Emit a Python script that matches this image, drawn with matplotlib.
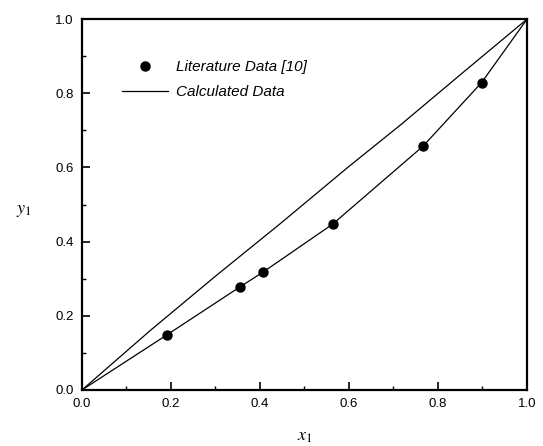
import matplotlib
matplotlib.use("Agg")
import matplotlib.pyplot as plt
from matplotlib.ticker import MultipleLocator

# Literature data points
lit_x = [0.190, 0.355, 0.407, 0.563, 0.766, 0.898]
lit_y = [0.148, 0.278, 0.318, 0.447, 0.657, 0.829]

# Calculated curve (lower)
calc_x = [0.0, 0.19, 0.355, 0.407, 0.563, 0.766, 0.898, 1.0]
calc_y = [0.0, 0.148, 0.278, 0.318, 0.447, 0.657, 0.829, 1.0]

# Upper curve
upper_x = [0.0, 0.153, 0.3, 0.445, 0.6, 0.715, 0.85, 1.0]
upper_y = [0.0, 0.160, 0.307, 0.448, 0.603, 0.714, 0.85, 1.0]

tick_vals = [0.0, 0.2, 0.4, 0.6, 0.8, 1.0]
tick_labels = ["0.0", "0.2", "0.4", "0.6", "0.8", "1.0"]

plt.rcParams['font.family'] = ['Liberation Sans', 'DejaVu Sans']
plt.rcParams['mathtext.fontset'] = 'stix'

fig = plt.figure(figsize=(5.43, 4.46), dpi=100)
ax = fig.add_axes([0.151, 0.1256, 0.8195, 0.8314])

ax.plot(upper_x, upper_y, color='black', lw=0.9)
ax.plot(calc_x, calc_y, color='black', lw=0.9, label='Calculated Data')
ax.plot(lit_x, lit_y, 'o', color='black', ms=6.5, label='Literature Data [10]')

ax.set_xlim(0, 1)
ax.set_ylim(0, 1)
ax.set_xticks(tick_vals)
ax.set_xticklabels(tick_labels)
ax.set_yticks(tick_vals)
ax.set_yticklabels(tick_labels)
ax.xaxis.set_minor_locator(MultipleLocator(0.1))
ax.yaxis.set_minor_locator(MultipleLocator(0.1))
ax.tick_params(which='major', direction='in', length=6, width=1.2, labelsize=9.5,
               top=False, right=False, pad=6)
ax.tick_params(which='minor', direction='in', length=3, width=1.0,
               top=False, right=False)
for s in ax.spines.values():
    s.set_linewidth(1.6)

ax.set_xlabel(r'$x_1$', fontsize=13, labelpad=13)
ax.set_ylabel(r'$y_1$', fontsize=13, rotation=0, labelpad=28)
ax.yaxis.set_label_coords(-0.13, 0.46)

handles, labels = ax.get_legend_handles_labels()
leg = ax.legend(handles[::-1], labels[::-1], loc='upper left',
                bbox_to_anchor=(0.06, 0.927), frameon=False,
                prop={'style': 'italic', 'size': 11},
                handlelength=3.0, handletextpad=0.5, labelspacing=0.75)

fig.savefig("out.png", dpi=100)
